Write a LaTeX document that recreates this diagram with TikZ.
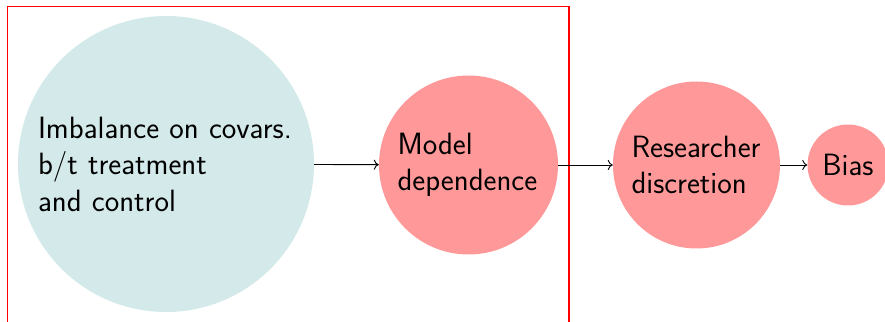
\documentclass[tikz,border=0pt]{standalone}
\usepackage{tikz}
\usetikzlibrary{arrows.meta}

\begin{document}
\begin{tikzpicture}[x=1pt, y=1pt,
    >={To[length=5pt, width=10pt]},
    blob/.style={circle, inner sep=0pt, align=left,
      font=\sffamily\fontsize{30.8}{36.5}\selectfont},
    imbal/.style={blob, fill=teal!17, minimum size=296pt, text width=256pt},
    redblob/.style={blob, fill=red!40},
    arr/.style={->, line width=0.9pt}]
        \useasboundingbox (0, 0) rectangle (885, 321);
        \draw [red, line width=1.3pt] (7.5, -5) rectangle (569, 314.5);
        \node [imbal] (imbalance) at (166, 157) {Imbalance on covars.\\b/t treatment\\and control};
        \node [redblob, minimum size=179pt, text width=142pt] (model) at (468.5, 156) {Model\\dependence};
        \node [redblob, minimum size=167pt, text width=130pt] (researcher) at (696.5, 156) {Researcher\\discretion};
        \node [redblob, minimum size=81pt, align=center] (bias) at (848, 156) {Bias};
        \draw [arr] (imbalance) -- (model);
        \draw [arr] (model) -- (researcher);
        \draw [arr] (researcher) -- (bias);
     \end{tikzpicture}
\end{document}
